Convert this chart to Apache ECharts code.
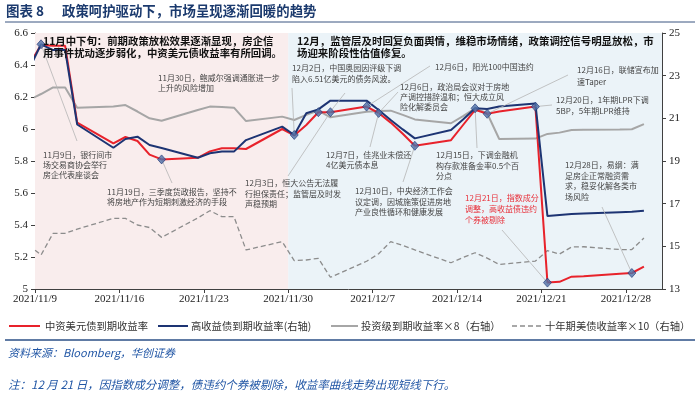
<!DOCTYPE html>
<html>
<head>
<meta charset="utf-8">
<script src="https://cdn.jsdelivr.net/npm/echarts@6/dist/echarts.min.js"></script>
<style>
html, body { margin: 0; padding: 0; background: #fff; }
#chart { width: 700px; height: 399px; }
</style>
</head>
<body>
<div id="chart"></div>
<script>
// 交易日（11/8 落在坐标轴左侧之外，被裁掉）
const dates = [
  "11/8", "11/9", "11/10", "11/11", "11/12", "11/15", "11/16", "11/17", "11/18", "11/19",
  "11/22", "11/23", "11/24", "11/25", "11/26", "11/29", "11/30", "12/1", "12/2", "12/3",
  "12/6", "12/7", "12/8", "12/9", "12/10", "12/13", "12/14", "12/15", "12/16", "12/17",
  "12/20", "12/21", "12/22", "12/23", "12/24", "12/27", "12/28", "12/29"
];

// 中资美元债到期收益率（左轴）
const cnUsdYield = [
  6.40, 6.525, 6.52, 6.52, 6.04, 5.91, 5.95, 5.925, 5.84, 5.81,
  5.82, 5.86, 5.88, 5.88, 5.875, 6.00, 5.96, 6.025, 6.105, 6.105,
  6.14, 6.10, 6.04, 5.97, 5.895, 5.93, 6.025, 6.12, 6.095, 6.11,
  6.14, 5.04, 5.045, 5.077, 5.08, 5.095, 5.10, 5.14
];

// 高收益债到期收益率（右轴）
const highYield = [
  23.3, 24.47, 24.2, 24.2, 20.71, 19.62, 20.03, 20.14, 19.75, 19.61,
  19.15, 19.36, 19.44, 19.44, 19.98, 20.61, 20.22, 21.24, 21.42, 21.83,
  21.83, 21.39, 20.92, 20.48, 20.06, 20.45, 20.95, 21.47, 21.44, 21.55,
  21.70, 16.42, 16.47, 16.51, 16.54, 16.60, 16.62, 16.67
];

// 投资级到期收益率×8（右轴）
const invGradeX8 = [
  21.86, 22.14, 22.45, 22.45, 21.50, 21.55, 21.62, 21.32, 21.00, 20.89,
  21.39, 21.55, 21.53, 21.50, 20.87, 21.08, 20.92, 21.16, 21.36, 21.05,
  21.31, 21.34, 21.36, 21.16, 20.95, 20.77, 21.10, 21.47, 21.24, 20.03,
  20.05, 20.27, 20.33, 20.45, 20.47, 20.48, 20.49, 20.73
];

// 十年期美债收益率×10（右轴）
const ust10yX10 = [
  15.06, 14.59, 15.61, 15.61, 15.81, 16.31, 16.31, 16.00, 15.88, 15.42,
  16.33, 16.67, 16.39, 16.39, 14.83, 15.22, 14.33, 14.36, 14.44, 13.55,
  14.30, 14.65, 15.22, 15.04, 14.83, 14.23, 14.48, 14.70, 14.45, 14.15,
  14.31, 14.80, 14.64, 14.97, 14.98, 14.85, 14.85, 15.39
];

const xTickLabels = [
  "2021/11/9", "2021/11/16", "2021/11/23", "2021/11/30",
  "2021/12/7", "2021/12/14", "2021/12/21", "2021/12/28"
];

const seriesNames = [
  "中资美元债到期收益率",
  "高收益债到期收益率(右轴)",
  "投资级到期收益率×8（右轴）",
  "十年期美债收益率×10（右轴）"
];

// 标注点（菱形）
const redMarks = ["11/19", "12/2", "12/3", "12/6", "12/7", "12/10", "12/16", "12/20", "12/21", "12/28"];
const blueMarks = ["11/9", "11/30", "12/15"];

// 日期 -> 距 11/9 的天数（点画在当日中间）
const dayOf = (s) => {
  const [m, d] = s.split("/").map(Number);
  return (Date.UTC(2021, m - 1, d) - Date.UTC(2021, 10, 9)) / 86400000 + 0.5;
};
const pairs = (vals) => dates.map((d, i) => [dayOf(d), vals[i]]);
const pick = (vals, list) => list.map((d) => [dayOf(d), vals[dates.indexOf(d)]]);

const CJK = '"Noto Sans CJK SC", sans-serif';
const SERIF = '"Liberation Serif", "DejaVu Serif", serif';

const RED = "#e8222b", NAVY = "#1d3473", GRAY = "#a6a6a6", DASH = "#8c8c8c";

const chart = echarts.init(document.getElementById("chart"));

const axisCommon = {
  axisLine: { show: true, lineStyle: { color: "#404040", width: 1 } },
  axisTick: { show: true, inside: false, length: 4, lineStyle: { color: "#404040" } },
  splitLine: { show: false },
  axisLabel: { fontFamily: SERIF, fontSize: 11, color: "#222", margin: 7 }
};

chart.setOption({
  animation: false,
  backgroundColor: "#fff",
  grid: { left: 35, right: 38, top: 33, bottom: 110, containLabel: false },
  xAxis: {
    type: "value",
    min: 0,
    max: 52,
    interval: 7,
    ...axisCommon,
    axisLabel: {
      ...axisCommon.axisLabel,
      margin: 5,
      formatter: (v) => xTickLabels[Math.round(v / 7)] || ""
    }
  },
  yAxis: [
    { type: "value", min: 5, max: 6.6, interval: 0.2, position: "left", ...axisCommon },
    { type: "value", min: 13, max: 25, interval: 2, position: "right", ...axisCommon }
  ],
  series: [
    {
      name: seriesNames[3], type: "line", yAxisIndex: 1, data: pairs(ust10yX10),
      symbol: "none", z: 2,
      lineStyle: { color: DASH, width: 1.3, type: [5, 3] },
      markArea: {
        silent: true,
        data: [
          [{ xAxis: 0, itemStyle: { color: "#f9eded" } }, { xAxis: 21 }],
          [{ xAxis: 21, itemStyle: { color: "#ebf3f8" } }, { xAxis: 52 }]
        ]
      }
    },
    {
      name: seriesNames[2], type: "line", yAxisIndex: 1, data: pairs(invGradeX8),
      symbol: "none", z: 3,
      lineStyle: { color: GRAY, width: 2 }
    },
    {
      name: seriesNames[0], type: "line", yAxisIndex: 0, data: pairs(cnUsdYield),
      symbol: "none", z: 4,
      lineStyle: { color: RED, width: 2 }
    },
    {
      name: seriesNames[1], type: "line", yAxisIndex: 1, data: pairs(highYield),
      symbol: "none", z: 5,
      lineStyle: { color: NAVY, width: 2 }
    },
    {
      name: "redMarks", type: "scatter", yAxisIndex: 0, data: pick(cnUsdYield, redMarks),
      symbol: "diamond", symbolSize: [8, 9], z: 8,
      itemStyle: { color: "#4e6fa6", borderColor: NAVY, borderWidth: 0.8 }
    },
    {
      name: "blueMarks", type: "scatter", yAxisIndex: 1, data: pick(highYield, blueMarks),
      symbol: "diamond", symbolSize: [8, 9], z: 8,
      itemStyle: { color: "#4e6fa6", borderColor: NAVY, borderWidth: 0.8 }
    }
  ]
});

// 注释文字：[x, 第一行中心y, 行高, 字号, 颜色, 粗体, 文本行]
const notes = [
  [43, 41, 12, 10.4, "#111", true, ["11月中下旬：前期政策放松效果逐渐显现，房企信", "用事件扰动逐步弱化，中资美元债收益率有所回调。"]],
  [297, 41, 12, 10.45, "#111", true, ["12月，监管层及时回复负面舆情，维稳市场情绪，政策调控信号明显放松，市", "场迎来阶段性估值修复。"]],
  [158, 77.5, 10, 8, "#444", false, ["11月30日，鲍威尔强调通胀进一步", "上升的风险增加"]],
  [43, 155, 10, 8, "#444", false, ["11月9日，银行间市", "场交易商协会举行", "房企代表座谈会"]],
  [107, 191.7, 10, 8, "#444", false, ["11月19日，三季度货政报告，坚持不", "将房地产作为短期刺激经济的手段"]],
  [245, 183.3, 10.3, 8, "#444", false, ["12月3日，恒大公告无法履", "行担保责任；监管层及时发", "声稳预期"]],
  [292, 68.3, 11, 8, "#444", false, ["12月2日，中国奥园因评级下调", "陷入6.51亿美元的债务风波。"]],
  [435, 66.5, 10, 8, "#444", false, ["12月6日，阳光100中国违约"]],
  [400, 86.5, 10.2, 8, "#444", false, ["12月6日，政治局会议对于房地", "产调控措辞温和；恒大成立风", "险化解委员会"]],
  [326, 155, 9.7, 8, "#444", false, ["12月7日，佳兆业未偿还", "4亿美元债本息"]],
  [355, 191, 10.5, 8, "#444", false, ["12月10日，中央经济工作会", "议定调，因城施策促进房地", "产业良性循环和健康发展"]],
  [436, 155, 10.5, 8, "#444", false, ["12月15日，下调金融机", "构存款准备金率0.5个百", "分点"]],
  [577, 70, 11.7, 8, "#444", false, ["12月16日，联储宣布加", "速Taper"]],
  [556, 100, 10.7, 8, "#444", false, ["12月20日，1年期LPR下调", "5BP，5年期LPR维持"]],
  [465, 198.3, 10.8, 8, "#e8303a", false, ["12月21日，指数成分", "调整，高收益债违约", "个券被剔除"]],
  [565, 165, 10.5, 8, "#444", false, ["12月28日，易纲：满", "足房企正常融资需", "求，稳妥化解各类市", "场风险"]]
];

// 引线：[日期, 所在序列, 文字端 x, 文字端 y]
const leaders = [
  ["11/9", "blue", 77, 141],
  ["11/19", "red", 172, 183],
  ["11/30", "blue", 292, 88],
  ["12/3", "red", 288, 176],
  ["12/6", "red", 430, 66],
  ["12/7", "red", 398, 92],
  ["12/7", "red", 370, 147],
  ["12/10", "red", 403, 182],
  ["12/15", "blue", 477, 148],
  ["12/16", "red", 568, 75],
  ["12/20", "red", 552, 105],
  ["12/21", "red", 502, 230],
  ["12/28", "red", 602, 207]
];

// 图例：[线颜色, 线型, 线起点x, 线终点x, 文字x]
const legendItems = [
  [RED, "solid", 9, 40, 45],
  [NAVY, "solid", 158, 188, 191],
  [GRAY, "solid", 331, 358, 361],
  [DASH, [5, 3], 512, 542, 545]
];

const graphics = [];

leaders.forEach(([d, s, x2, y2]) => {
  const p = s === "red"
    ? chart.convertToPixel({ seriesIndex: 2 }, [dayOf(d), cnUsdYield[dates.indexOf(d)]])
    : chart.convertToPixel({ seriesIndex: 3 }, [dayOf(d), highYield[dates.indexOf(d)]]);
  graphics.push({
    type: "line", silent: true, z: 6,
    shape: { x1: p[0], y1: p[1], x2, y2 },
    style: { stroke: "#b5b5b5", lineWidth: 0.8 }
  });
});
// 12月3日的引线一直延伸到曲线上方
graphics.push({
  type: "line", silent: true, z: 6,
  shape: { x1: 330, y1: 112, x2: 345, y2: 93 },
  style: { stroke: "#b5b5b5", lineWidth: 0.8 }
});

notes.forEach(([x, yc, lh, fs, color, bold, lines]) => {
  graphics.push({
    type: "text", silent: true, z: 20,
    x: x, y: yc - lh / 2,
    style: {
      text: lines.join("\n"),
      fill: color,
      fontFamily: CJK,
      fontSize: fs,
      fontWeight: bold ? "bold" : "normal",
      lineHeight: lh,
      verticalAlign: "top"
    }
  });
});

legendItems.forEach(([color, type, x1, x2, tx], i) => {
  graphics.push(
    {
      type: "line", silent: true,
      shape: { x1, y1: 326, x2, y2: 326 },
      style: { stroke: color, lineWidth: i === 3 ? 1.3 : 2, lineDash: type === "solid" ? null : type }
    },
    {
      type: "text", silent: true, x: tx, y: 326,
      style: { text: seriesNames[i], fill: "#333", fontFamily: CJK, fontSize: 10.3, verticalAlign: "middle" }
    }
  );
});

// 标题、分隔线、资料来源与注释
graphics.push(
  {
    type: "text", silent: true, x: 6, y: 4,
    style: { text: "图表 8", fill: "#1b3a6e", fontFamily: CJK, fontSize: 13.5, fontWeight: "bold", verticalAlign: "top" }
  },
  {
    type: "text", silent: true, x: 62, y: 4,
    style: { text: "政策呵护驱动下，市场呈现逐渐回暖的趋势", fill: "#1b3a6e", fontFamily: CJK, fontSize: 13.4, fontWeight: "bold", verticalAlign: "top" }
  },
  {
    type: "line", silent: true,
    shape: { x1: 5, y1: 22, x2: 695, y2: 22 },
    style: { stroke: "#3a5580", lineWidth: 1 }
  },
  {
    type: "line", silent: true,
    shape: { x1: 5, y1: 340, x2: 695, y2: 340 },
    style: { stroke: "#2b4f86", lineWidth: 1.5 }
  },
  {
    type: "text", silent: true, x: 8, y: 347,
    style: { text: "资料来源：Bloomberg，华创证券", fill: "#2156a5", fontFamily: CJK, fontSize: 11, fontStyle: "italic", verticalAlign: "top" }
  },
  {
    type: "text", silent: true, x: 8, y: 379,
    style: { text: "注：12 月 21 日，因指数成分调整，债违约个券被剔除，收益率曲线走势出现短线下行。", fill: "#2156a5", fontFamily: CJK, fontSize: 11.5, fontStyle: "italic", verticalAlign: "top" }
  }
);

chart.setOption({ graphic: graphics });
</script>
</body>
</html>
